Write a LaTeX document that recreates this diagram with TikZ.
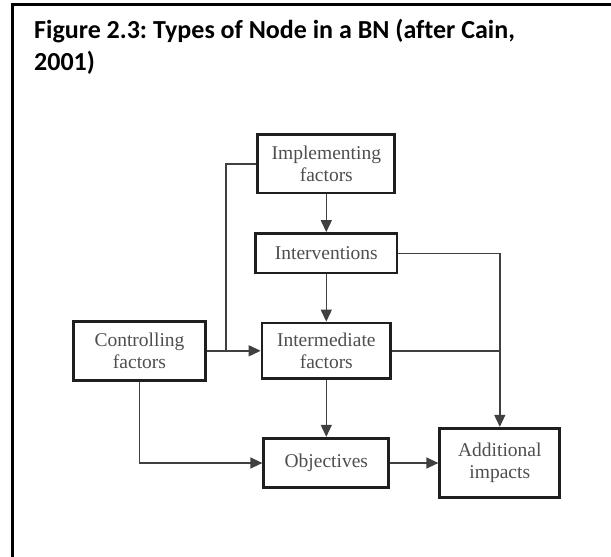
\documentclass[tikz,border=0pt]{standalone}
\usepackage{fontspec}
\setmainfont{Liberation Serif}
\newfontfamily\titlefont[Ligatures=NoCommon]{Carlito}
\usetikzlibrary{arrows.meta}
\definecolor{boxtext}{HTML}{4E4E4E}
\definecolor{wirecol}{HTML}{404040}
\frenchspacing
\begin{document}
\begin{tikzpicture}[x=1pt,y=-1pt,
  nodebox/.style={draw=black!88, line width=2.8pt, inner sep=0pt, align=center,
    text=boxtext, font=\fontsize{19.5}{21.6}\selectfont},
  wire/.style={draw=wirecol, line width=1.4pt},
  flow/.style={wire, -{Triangle[length=12pt,width=11pt]}},
  titletext/.style={anchor=base west, inner sep=0pt,
    font=\titlefont\bfseries\fontsize{26}{30}\selectfont}]
\useasboundingbox (0,0) rectangle (611,557);

% frame (top and left edges)
\draw[line width=3pt] (12.5,557) -- (12.5,4.7) -- (611,4.7);

% caption
\node[titletext] (title1) at (34,38) {Figure 2.3: Types of Node in a BN (after Cain,};
\node[titletext] (title2) at (34,70) {2001)};

% nodes
\node[nodebox, minimum width=137pt, minimum height=58.5pt] (impl) at (326.3,163.8) {Implementing\\factors};
\node[nodebox, minimum width=141.5pt, minimum height=39.5pt] (interv) at (326.3,253.3) {Interventions};
\node[nodebox, minimum width=128.5pt, minimum height=55.5pt] (inter) at (326.3,350.8) {Intermediate\\factors};
\node[nodebox, minimum width=132pt, minimum height=59pt] (ctrl) at (139.5,350.8) {Controlling\\factors};
\node[nodebox, minimum width=125pt, minimum height=49.5pt] (obj) at (326.3,463) {Objectives};
\node[nodebox, minimum width=120pt, minimum height=69.5pt] (add) at (499.8,463) {Additional\\impacts};

% connectors
\coordinate (merge) at (226,350.8);
\draw[wire] (impl.west) -| (merge);
\draw[flow] (ctrl.east) -- (inter.west);
\draw[flow] (impl.south) -- (interv.north);
\draw[flow] (interv.south) -- (inter.north);
\draw[flow] (inter.south) -- (obj.north);
\draw[flow] (interv.east) -| (add.north);
\coordinate (join) at (inter.east -| add.north);
\draw[wire] (inter.east) -- (join);
\draw[flow] (ctrl.south) |- (obj.west);
\draw[flow] (obj.east) -- (add.west);
\end{tikzpicture}
\end{document}
